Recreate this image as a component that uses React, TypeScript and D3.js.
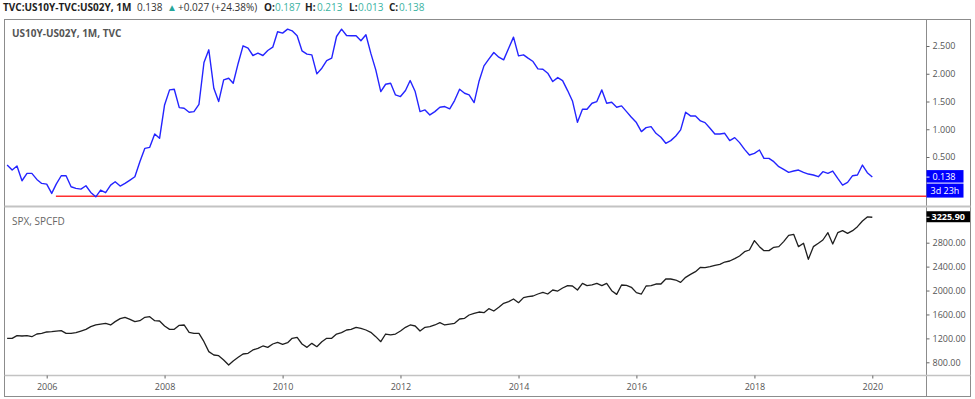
import React, { useEffect, useRef } from 'react';
import * as d3 from 'd3';

// monthly closes, first bar is May 2005, last bar Jan 2020
const firstMonth = new Date(2005, 4, 1);

const spreadValues: number[] = [
  0.355, 0.265, 0.337, 0.072, 0.205, 0.205, 0.096, 0.024, 0.012, -0.156,
  0.012, 0.162, 0.162, -0.036, -0.066, -0.078, -0.018, -0.138, -0.217, -0.096,
  -0.144, -0.006, 0.054, -0.024, 0.024, 0.084, 0.144, 0.415, 0.656, 0.674,
  0.915, 0.836, 1.438, 1.709, 1.721, 1.39, 1.378, 1.306, 1.318, 1.45,
  2.202, 2.431, 1.739, 1.498, 1.889, 1.919, 1.829, 2.19, 2.503, 2.46,
  2.329, 2.371, 2.329, 2.419, 2.479, 2.756, 2.732, 2.804, 2.774, 2.684,
  2.413, 2.353, 2.341, 1.998, 2.1, 2.238, 2.28, 2.671, 2.804, 2.69,
  2.684, 2.684, 2.594, 2.702, 2.371, 2.07, 1.679, 1.811, 1.829, 1.619,
  1.589, 1.697, 1.878, 1.679, 1.318, 1.348, 1.258, 1.318, 1.397, 1.409,
  1.367, 1.517, 1.721, 1.649, 1.619, 1.48, 1.859, 2.142, 2.262, 2.383,
  2.299, 2.25, 2.461, 2.66, 2.323, 2.341, 2.281, 2.22, 2.088, 2.082,
  2.01, 1.859, 1.931, 1.877, 1.697, 1.51, 1.125, 1.36, 1.36, 1.468,
  1.499, 1.709, 1.469, 1.487, 1.397, 1.421, 1.318, 1.216, 1.12, 0.957,
  1.029, 1.047, 0.927, 0.855, 0.747, 0.795, 0.879, 0.988, 1.307, 1.24,
  1.24, 1.15, 1.12, 1.017, 0.915, 0.915, 0.927, 0.795, 0.849, 0.759,
  0.638, 0.536, 0.566, 0.626, 0.476, 0.476, 0.416, 0.325, 0.277, 0.223,
  0.247, 0.265, 0.223, 0.193, 0.175, 0.145, 0.235, 0.205, 0.247, 0.115,
  -0.006, 0.042, 0.163, 0.175, 0.355, 0.217, 0.138,
];

const spxValues: number[] = [
  1201, 1201, 1245, 1240, 1245, 1228, 1273, 1284, 1307, 1312,
  1323, 1329, 1284, 1284, 1296, 1323, 1351, 1396, 1424, 1440,
  1452, 1424, 1480, 1530, 1552, 1519, 1480, 1496, 1552, 1563,
  1496, 1491, 1407, 1351, 1351, 1418, 1424, 1301, 1284, 1284,
  1145, 978, 922, 911, 838, 755, 822, 883, 939, 950,
  1006, 1034, 1073, 1050, 1106, 1134, 1100, 1128, 1201, 1217,
  1106, 1050, 1117, 1061, 1145, 1201, 1201, 1273, 1296, 1340,
  1351, 1385, 1368, 1340, 1301, 1229, 1145, 1273, 1257, 1273,
  1323, 1385, 1424, 1407, 1323, 1385, 1396, 1424, 1463, 1424,
  1440, 1452, 1524, 1535, 1591, 1619, 1641, 1630, 1697, 1658,
  1719, 1786, 1814, 1858, 1797, 1881, 1898, 1909, 1942, 1970,
  1942, 2009, 1992, 2042, 2081, 2076, 2009, 2120, 2081, 2093,
  2120, 2081, 2120, 1998, 1936, 2093, 2087, 2054, 1965, 1942,
  2076, 2081, 2109, 2109, 2193, 2193, 2176, 2137, 2221, 2271,
  2316, 2388, 2383, 2399, 2421, 2438, 2477, 2494, 2533, 2578,
  2650, 2678, 2834, 2734, 2667, 2667, 2723, 2734, 2818, 2923,
  2940, 2734, 2790, 2522, 2734, 2790, 2845, 2968, 2778, 2968,
  3001, 2957, 3001, 3068, 3163, 3231, 3225.9,
];

const yearTicks = [2006, 2008, 2010, 2012, 2014, 2016, 2018, 2020];
const spreadTicks = [0.5, 1, 1.5, 2, 2.5];
const spxTicks = [800, 1200, 1600, 2000, 2400, 2800];

// horizontal drawing on the spread pane
const redLineLevel = -0.2;
const redLineStart = new Date(2006, 1, 27);

const lastSpread = '0.138';
const countdown = '3d 23h';
const lastSpx = '3225.90';

// header legend pieces, x is where each piece starts
const headerParts = [
  { text: 'TVC:US10Y-TVC:US02Y, 1M', x: 3, size: 10, weight: 'bold', color: '#1e1e1e' },
  { text: '0.138', x: 137, size: 10, weight: 'normal', color: '#333' },
  { text: '\u25B2', x: 167, size: 10, weight: 'normal', color: '#26a69a' },
  { text: '+0.027 (+24.38%)', x: 178, size: 10, weight: 'normal', color: '#333' },
  { text: 'O:', x: 264, size: 10, weight: 'bold', color: '#1e1e1e' },
  { text: '0.187', x: 275, size: 10, weight: 'normal', color: '#3bb3a3' },
  { text: 'H:', x: 305, size: 10, weight: 'bold', color: '#1e1e1e' },
  { text: '0.213', x: 317, size: 10, weight: 'normal', color: '#3bb3a3' },
  { text: 'L:', x: 349, size: 10, weight: 'bold', color: '#1e1e1e' },
  { text: '0.013', x: 358, size: 10, weight: 'normal', color: '#3bb3a3' },
  { text: 'C:', x: 389, size: 10, weight: 'bold', color: '#1e1e1e' },
  { text: '0.138', x: 399, size: 10, weight: 'normal', color: '#3bb3a3' },
];

const width = 975;
const height = 399;
const font = "'Open Sans', sans-serif";

const App: React.FC = () => {
  const svgRef = useRef<SVGSVGElement>(null);

  useEffect(() => {
    if (!svgRef.current) return;
    const svg = d3.select(svgRef.current);
    svg.selectAll('*').remove();

    const frame = { left: 4.5, right: 970.5, top: 19.5, bottom: 396.5 };
    const plotRight = 926.5;
    const paneSplit = 206.5;
    const timeAxisY = 375.5;

    const months = spreadValues.map((_, i) => d3.timeMonth.offset(firstMonth, i));

    const x = d3.scaleTime()
      .domain([new Date(2006, 0, 1), new Date(2020, 0, 1)])
      .range([46.7, 872.3]);

    const ySpread = d3.scaleLinear().domain([0.5, 2.5]).range([157, 46]);
    const ySpx = d3.scaleLinear().domain([800, 2800]).range([362.3, 242.7]);

    // header line
    svg.append('g')
      .selectAll('text')
      .data(headerParts)
      .enter()
      .append('text')
      .attr('x', d => d.x)
      .attr('y', 11)
      .attr('font-family', font)
      .attr('font-size', d => d.size)
      .attr('font-weight', d => d.weight)
      .attr('fill', d => d.color)
      .text(d => d.text);

    // frame and separators
    svg.append('rect')
      .attr('x', frame.left)
      .attr('y', frame.top)
      .attr('width', frame.right - frame.left)
      .attr('height', frame.bottom - frame.top)
      .attr('fill', '#fff')
      .attr('stroke', '#8c8c8c')
      .attr('stroke-width', 1);

    svg.append('line')
      .attr('x1', plotRight).attr('x2', plotRight)
      .attr('y1', frame.top).attr('y2', frame.bottom)
      .attr('stroke', '#8c8c8c');

    svg.append('line')
      .attr('x1', frame.left).attr('x2', frame.right)
      .attr('y1', paneSplit).attr('y2', paneSplit)
      .attr('stroke', '#c3c3c3')
      .attr('stroke-width', 2);

    svg.append('line')
      .attr('x1', frame.left).attr('x2', frame.right)
      .attr('y1', timeAxisY).attr('y2', timeAxisY)
      .attr('stroke', '#c3c3c3')
      .attr('stroke-width', 1.5);

    // pane titles
    svg.append('text')
      .attr('x', 12).attr('y', 37)
      .attr('font-family', font).attr('font-size', 10)
      .attr('font-weight', 'bold').attr('fill', '#555')
      .text('US10Y-US02Y, 1M, TVC');

    svg.append('text')
      .attr('x', 12).attr('y', 224.5)
      .attr('font-family', font).attr('font-size', 10)
      .attr('fill', '#666')
      .text('SPX, SPCFD');

    // time axis
    const xAxis = svg.append('g')
      .attr('transform', `translate(0,${timeAxisY})`)
      .call(d3.axisBottom(x)
        .tickValues(yearTicks.map(yr => new Date(yr, 0, 1)))
        .tickSize(3)
        .tickFormat(d => d3.timeFormat('%Y')(d as Date)));
    xAxis.select('.domain').remove();
    xAxis.selectAll('.tick line').attr('stroke', '#666');
    xAxis.selectAll('.tick text')
      .attr('fill', '#555')
      .attr('font-family', font)
      .attr('font-size', 9)
      .attr('dy', '0.9em');

    // right scales
    const spreadAxis = svg.append('g')
      .attr('transform', `translate(${plotRight},0)`)
      .call(d3.axisRight(ySpread)
        .tickValues(spreadTicks)
        .tickSize(3)
        .tickPadding(3)
        .tickFormat(d => d3.format('.3f')(d as number)));
    spreadAxis.select('.domain').remove();
    spreadAxis.selectAll('.tick line').attr('stroke', '#666');
    spreadAxis.selectAll('.tick text')
      .attr('fill', '#555').attr('font-family', font).attr('font-size', 9);

    const spxAxis = svg.append('g')
      .attr('transform', `translate(${plotRight},0)`)
      .call(d3.axisRight(ySpx)
        .tickValues(spxTicks)
        .tickSize(3)
        .tickPadding(3)
        .tickFormat(d => d3.format('.2f')(d as number)));
    spxAxis.select('.domain').remove();
    spxAxis.selectAll('.tick line').attr('stroke', '#666');
    spxAxis.selectAll('.tick text')
      .attr('fill', '#555').attr('font-family', font).attr('font-size', 9);

    // red horizontal line
    svg.append('line')
      .attr('x1', x(redLineStart))
      .attr('x2', plotRight)
      .attr('y1', ySpread(redLineLevel) + 0.5)
      .attr('y2', ySpread(redLineLevel) + 0.5)
      .attr('stroke', '#ff3030')
      .attr('stroke-width', 1.5);

    // series lines
    const spreadLine = d3.line<number>()
      .x((_, i) => x(months[i]))
      .y(d => ySpread(d));
    svg.append('path')
      .datum(spreadValues)
      .attr('d', spreadLine)
      .attr('fill', 'none')
      .attr('stroke', '#2424ff')
      .attr('stroke-width', 1.4)
      .attr('stroke-linejoin', 'round');

    const spxLine = d3.line<number>()
      .x((_, i) => x(months[i]))
      .y(d => ySpx(d));
    svg.append('path')
      .datum(spxValues)
      .attr('d', spxLine)
      .attr('fill', 'none')
      .attr('stroke', '#1f1f1f')
      .attr('stroke-width', 1.3)
      .attr('stroke-linejoin', 'round');

    // last value labels
    const lastY = ySpread(spreadValues[spreadValues.length - 1]);
    svg.append('rect')
      .attr('x', plotRight).attr('y', lastY - 7)
      .attr('width', 37).attr('height', 12.5)
      .attr('fill', '#0000ff');
    svg.append('line')
      .attr('x1', plotRight).attr('x2', plotRight + 3)
      .attr('y1', lastY).attr('y2', lastY)
      .attr('stroke', '#fff');
    svg.append('text')
      .attr('x', plotRight + 6).attr('y', lastY + 3)
      .attr('font-family', font).attr('font-size', 9)
      .attr('fill', '#fff')
      .text(lastSpread);
    svg.append('rect')
      .attr('x', plotRight).attr('y', lastY + 6.5)
      .attr('width', 37).attr('height', 14)
      .attr('fill', '#0000ff');
    svg.append('text')
      .attr('x', plotRight + 4).attr('y', lastY + 16.5)
      .attr('font-family', font).attr('font-size', 9)
      .attr('fill', '#fff')
      .text(countdown);

    const lastSpxY = ySpx(spxValues[spxValues.length - 1]);
    svg.append('rect')
      .attr('x', plotRight).attr('y', lastSpxY - 6)
      .attr('width', frame.right - plotRight - 0.5).attr('height', 11)
      .attr('fill', '#000');
    svg.append('line')
      .attr('x1', plotRight).attr('x2', plotRight + 3)
      .attr('y1', lastSpxY).attr('y2', lastSpxY)
      .attr('stroke', '#fff');
    svg.append('text')
      .attr('x', plotRight + 5).attr('y', lastSpxY + 3)
      .attr('font-family', font).attr('font-size', 9)
      .attr('font-weight', 'bold')
      .attr('fill', '#fff')
      .text(lastSpx);
  }, []);

  return (
    <svg
      ref={svgRef}
      width={width}
      height={height}
      style={{ position: 'absolute', left: 0, top: 0, background: '#fff' }}
    />
  );
};

export default App;
